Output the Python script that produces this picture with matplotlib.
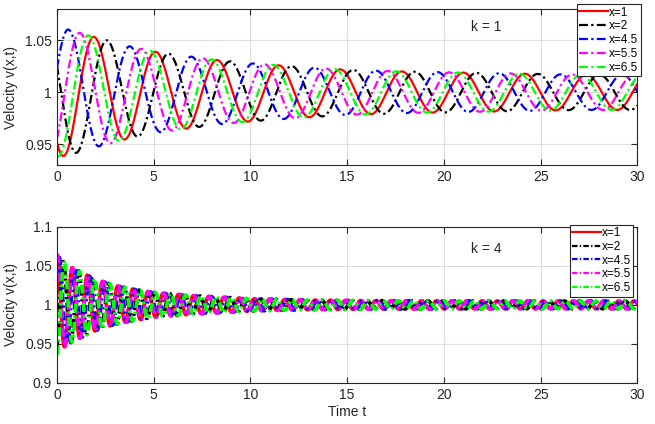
import matplotlib
matplotlib.use("Agg")
import matplotlib.pyplot as plt
import numpy as np

plt.rcParams["font.family"] = ["Liberation Sans", "DejaVu Sans"]

# ---- values --------------------------------------------------------------
labels = ["x=1", "x=2", "x=4.5", "x=5.5", "x=6.5"]
colors = ["#ff0000", "#000000", "#0000ff", "#ff00ff", "#00ff00"]
styles = ["-", "-.", "-.", "-.", "-."]

# k = 1 panel: oscillation period, time of first peak per series, envelope
period_k1 = 3.18
first_peak_k1 = [1.93, 2.60, 0.60, 1.20, 1.65]
env_t_k1 = [0, 0.5, 2.0, 3.6, 5.1, 6.7, 8.3, 10.0, 11.5, 13.1, 14.7, 18.0, 21.0, 24.0, 27.0, 30.0]
env_a_k1 = [0.062, 0.061, 0.053, 0.045, 0.039, 0.035, 0.031, 0.028, 0.026, 0.024, 0.022, 0.020,
            0.019, 0.018, 0.017, 0.017]

# k = 4 panel
period_k4 = 0.785
first_peak_k4 = [0.00, 0.33, 0.12, 0.03, 0.38]
env_t_k4 = [0, 0.5, 1.0, 2.0, 3.0, 4.0, 5.0, 7.0, 10.0, 13.0, 16.0, 20.0, 25.0, 30.0]
env_a_k4 = [0.064, 0.051, 0.045, 0.033, 0.025, 0.020, 0.016, 0.012, 0.008, 0.0062, 0.0055,
            0.0052, 0.0050, 0.0050]

t = np.linspace(0, 30, 9001)


def velocity(period, peak, env_t, env_a):
    amp = np.interp(t, env_t, env_a)
    return 1 + amp * np.cos(2 * np.pi * (t - peak) / period)


fig = plt.figure(figsize=(6.55, 4.24), dpi=100)
ax1 = fig.add_axes([0.087, 0.611, 0.886, 0.367])
ax2 = fig.add_axes([0.087, 0.097, 0.886, 0.368])

panels = [
    (ax1, period_k1, first_peak_k1, env_t_k1, env_a_k1, 1.6, [4, 1.5, 1, 1.5], "k = 1", 1.063),
    (ax2, period_k4, first_peak_k4, env_t_k4, env_a_k4, 2.6, [2.5, 1, 0.6, 1], "k = 4", 1.072),
]

for ax, per, peaks, et, ea, lw, dash, ktext, ky in panels:
    for lab, c, ls, pk in zip(labels, colors, styles, peaks):
        v = velocity(per, pk, et, ea)
        line, = ax.plot(t, v, color=c, lw=lw, label=lab)
        if ls == "-.":
            line.set_dashes(dash)
    ax.set_xlim(0, 30)
    ax.set_xticks(range(0, 31, 5))
    ax.grid(True, color="#dedede", lw=0.8)
    ax.set_axisbelow(True)
    ax.tick_params(direction="in", top=True, right=True, labelsize=10,
                   colors="#262626", length=4)
    for s in ax.spines.values():
        s.set_color("#262626")
        s.set_linewidth(0.8)
    ax.set_ylabel("Velocity v(x,t)", fontsize=10, color="#262626")
    ax.text(22.2, ky, ktext, fontsize=10, color="#262626", ha="center", va="center")

ax1.set_ylim(0.93, 1.08)
ax1.set_yticks([0.95, 1.0, 1.05])
ax1.set_yticklabels(["0.95", "1", "1.05"])
ax2.set_ylim(0.9, 1.1)
ax2.set_yticks([0.9, 0.95, 1.0, 1.05, 1.1])
ax2.set_yticklabels(["0.9", "0.95", "1", "1.05", "1.1"])
ax2.set_xlabel("Time t", fontsize=10, color="#262626", labelpad=2)
ax1.yaxis.set_label_coords(-0.068, 0.5)
ax2.yaxis.set_label_coords(-0.068, 0.5)

for ax, anchor in [(ax1, (0.978, 0.990)), (ax2, (0.967, 0.470))]:
    leg = ax.legend(loc="upper right", bbox_to_anchor=anchor,
                    bbox_transform=fig.transFigure, fontsize=8.5, frameon=True,
                    fancybox=False, edgecolor="#262626", framealpha=1,
                    handlelength=2.4, handletextpad=0.1, borderpad=0.2,
                    labelspacing=0.15, borderaxespad=0)
    leg.get_frame().set_linewidth(0.8)
    for h in leg.get_lines():
        h.set_linewidth(1.6)

fig.savefig("out.png", dpi=100, facecolor="white")
